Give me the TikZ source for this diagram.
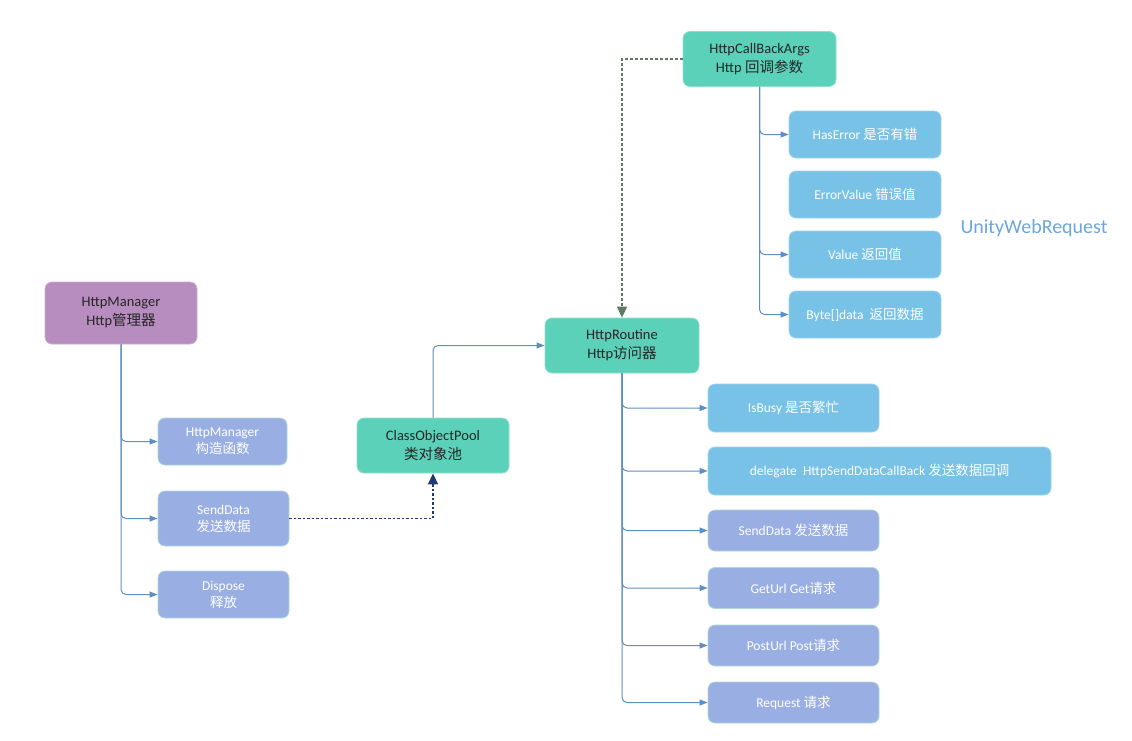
\documentclass[tikz,border=0pt]{standalone}
\usepackage{fontspec}
\setmainfont{Carlito}
\newfontfamily\cjk{Noto Sans CJK SC}
\newcommand{\zh}[1]{{\cjk #1}}
\usetikzlibrary{arrows.meta}
\definecolor{mgrpurple}{HTML}{B78CBF}
\definecolor{poolteal}{HTML}{5CD1B9}
\definecolor{argblue}{HTML}{78C1E7}
\definecolor{lavender}{HTML}{99AEE3}
\definecolor{linkblue}{HTML}{5E8FC0}
\definecolor{navy}{HTML}{1F3A6E}
\definecolor{sage}{HTML}{5E7A62}
\definecolor{unityblue}{HTML}{6CA6DC}
\tikzset{
  box/.style={rounded corners=7pt, inner sep=0pt, align=center, line width=0.8pt},
  topbox/.style={box, font=\fontsize{14.5}{19}\selectfont, text=black!85},
  subbox/.style={box, font=\fontsize{13.5}{17}\selectfont, text=white},
  mgrnode/.style={topbox, fill=mgrpurple, draw=mgrpurple!70!white, minimum width=152pt, minimum height=62pt},
  tealnode/.style={topbox, fill=poolteal, draw=poolteal!70!white, minimum width=153pt, minimum height=55pt},
  bluenode/.style={subbox, fill=argblue, draw=argblue!70!white, minimum height=47pt},
  lavnode/.style={subbox, fill=lavender, draw=green!20!lavender!60!white, minimum height=47pt},
  link/.style={draw=linkblue, line width=1pt, rounded corners=5pt, -{Triangle[length=8pt,width=6pt]}},
}
\begin{document}
\begin{tikzpicture}[x=1pt,y=-1pt]
      \useasboundingbox (0,0) rectangle (1132,740);
      \node[mgrnode] (mgr) at (121,313) {HttpManager\\Http\zh{管理器}};
      \node[lavnode, minimum width=129pt] (mgrctor) at (222.5,441.5) {HttpManager\\\zh{构造函数}};
      \node[lavnode, minimum width=131pt, minimum height=55pt] (mgrsend) at (223.5,518.5) {SendData\\\zh{发送数据}};
      \node[lavnode, minimum width=131pt] (mgrdispose) at (223.5,594.5) {Dispose\\\zh{释放}};
      \node[tealnode, minimum width=152pt] (pool) at (433,445.5) {ClassObjectPool\\\zh{类对象池}};
      \node[tealnode, minimum width=154pt] (routine) at (622,345.5) {HttpRoutine\\Http\zh{访问器}};
      \node[tealnode] (args) at (759.5,59) {HttpCallBackArgs\\Http \zh{回调参数}};
      \node[bluenode, minimum width=152pt] (haserror) at (865,134.5) {HasError \zh{是否有错}};
      \node[bluenode, minimum width=152pt] (errvalue) at (865,194.5) {ErrorValue \zh{错误值}};
      \node[bluenode, minimum width=152pt] (value) at (865,254.5) {Value \zh{返回值}};
      \node[bluenode, minimum width=152pt] (bytedata) at (865,314.5) {Byte[]data\ \ \zh{返回数据}};
      \node[font=\fontsize{20}{24}\selectfont, text=unityblue] (unity) at (1034,228) {UnityWebRequest};
      \node[bluenode, minimum width=171pt, minimum height=48pt] (isbusy) at (793.5,408) {IsBusy \zh{是否繁忙}};
      \node[bluenode, minimum width=343pt, minimum height=48pt] (delegate) at (879.5,471) {delegate\ \ HttpSendDataCallBack \zh{发送数据回调}};
      \node[lavnode, minimum width=171pt, minimum height=41pt] (rsend) at (793.5,530.5) {SendData \zh{发送数据}};
      \node[lavnode, minimum width=171pt, minimum height=41pt] (geturl) at (793.5,588) {GetUrl Get\zh{请求}};
      \node[lavnode, minimum width=171pt, minimum height=41pt] (posturl) at (793.5,645.5) {PostUrl Post\zh{请求}};
      \node[lavnode, minimum width=171pt, minimum height=41pt] (request) at (793.5,702.5) {Request \zh{请求}};
      \begin{scope}[link]
        \draw (mgr.south) |- (mgrctor.west);
        \draw (mgr.south) |- (mgrsend.west);
        \draw (mgr.south) |- (mgrdispose.west);
        \draw (pool.north) |- (routine.west);
        \draw (args.south) |- (haserror.west);
        \draw (args.south) |- (value.west);
        \draw (args.south) |- (bytedata.west);
        \draw (routine.south) |- (isbusy.west);
        \draw (routine.south) |- (delegate.west);
        \draw (routine.south) |- (rsend.west);
        \draw (routine.south) |- (geturl.west);
        \draw (routine.south) |- (posturl.west);
        \draw (routine.south) |- (request.west);
      \end{scope}
      \draw[navy, line width=1.6pt, dash pattern=on 2.5pt off 2pt, -{Triangle[length=11pt,width=10pt]}] (mgrsend.east) -| (pool.south);
      \draw[sage, line width=1.6pt, dash pattern=on 3pt off 2pt, -{Triangle[length=11pt,width=10pt]}] (args.west) -| (routine.north);
    \end{tikzpicture}
\end{document}
